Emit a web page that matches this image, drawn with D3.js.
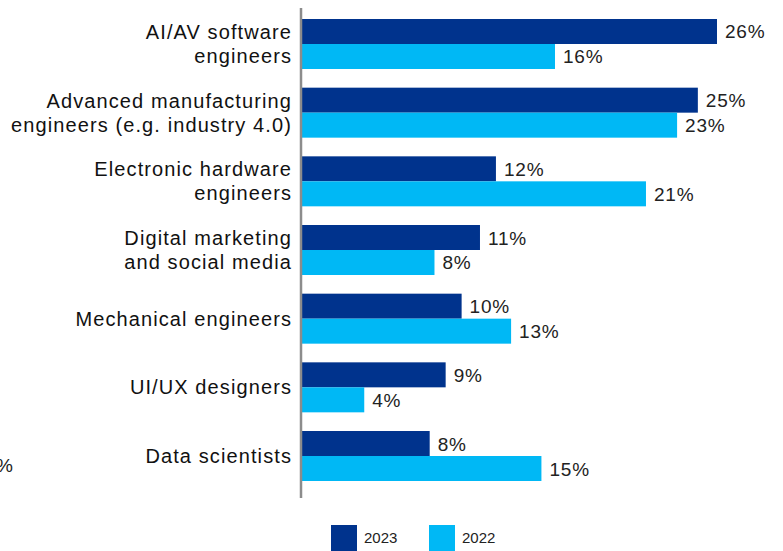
<!DOCTYPE html>
<html lang="en">
    <head>
       <script src="https://d3js.org/d3.v7.min.js"></script>
       <style>
           body { margin: 0; background: #fff; }
           text { font-family: "Liberation Sans", Arial, sans-serif; }
       </style>
    </head>
    <body>
        <script>
            var width  = 783;
            var height = 551;

            // categories, each label split into its lines
            var categories = [
                ["AI/AV software", "engineers"],
                ["Advanced manufacturing", "engineers (e.g. industry 4.0)"],
                ["Electronic hardware", "engineers"],
                ["Digital marketing", "and social media"],
                ["Mechanical engineers"],
                ["UI/UX designers"],
                ["Data scientists"]
            ];

            // series values (percent, bar lengths)
            var values2023 = [26, 24.8, 12.15, 11.15, 10, 9, 8];
            var values2022 = [15.85, 23.5, 21.55, 8.3, 13.1, 3.9, 15];

            // printed value labels
            var labels2023 = ["26%", "25%", "12%", "11%", "10%", "9%", "8%"];
            var labels2022 = ["16%", "23%", "21%", "8%", "13%", "4%", "15%"];

            var seriesNames  = ["2023", "2022"];
            var seriesColors = ["#00338d", "#00b8f5"];

            var axis_x = 301;

            var svg = d3.select("body")
                        .append("svg")
                        .attr("id", "canvas")
                        .attr("width", width)
                        .attr("height", height);

            // scales
            var x = d3.scaleLinear()
                      .domain([0, 26])
                      .range([axis_x + 1, 717]);

            var y = d3.scaleBand()
                      .domain(d3.range(categories.length))
                      .range([19, 481])
                      .paddingInner(0.272)
                      .paddingOuter(0);

            var ySub = d3.scaleBand()
                         .domain([0, 1])
                         .range([0, y.bandwidth()]);

            var series = [values2023, values2022];
            var seriesLabels = [labels2023, labels2022];

            // bars and value labels
            series.forEach(function (vals, s) {
                svg.append("g")
                   .selectAll("rect")
                   .data(vals)
                   .enter()
                   .append("rect")
                   .attr("x", x(0))
                   .attr("y", function (d, i) { return y(i) + ySub(s); })
                   .attr("width", function (d) { return x(d) - x(0); })
                   .attr("height", ySub.bandwidth())
                   .style("fill", seriesColors[s]);

                svg.append("g")
                   .selectAll("text")
                   .data(vals)
                   .enter()
                   .append("text")
                   .attr("x", function (d) { return x(d) + 8; })
                   .attr("y", function (d, i) { return y(i) + ySub(s) + ySub.bandwidth() / 2 + 7; })
                   .style("font-size", "19px")
                   .style("letter-spacing", "0.8px")
                   .style("fill", "#222")
                   .text(function (d, i) { return seriesLabels[s][i]; });
            });

            // category labels
            var labels = svg.append("g")
                            .selectAll("text")
                            .data(categories)
                            .enter()
                            .append("text")
                            .attr("text-anchor", "end")
                            .style("font-size", "20px")
                            .style("letter-spacing", "1.1px")
                            .style("fill", "#111")
                            .attr("y", function (d, i) {
                                var c = y(i) + y.bandwidth() / 2;
                                return d.length > 1 ? c - 5 : c + 7;
                            });

            labels.selectAll("tspan")
                  .data(function (d) { return d; })
                  .enter()
                  .append("tspan")
                  .attr("x", 292)
                  .attr("dy", function (d, j) { return j === 0 ? 0 : 24; })
                  .text(function (d) { return d; });

            // vertical axis line
            svg.append("line")
               .attr("x1", axis_x)
               .attr("x2", axis_x)
               .attr("y1", 8)
               .attr("y2", 498)
               .attr("stroke", "#8c8c8c")
               .attr("stroke-width", 2.5);

            // stray cut-off label at the left edge
            svg.append("text")
               .attr("x", 13)
               .attr("y", 472)
               .attr("text-anchor", "end")
               .style("font-size", "19px")
               .style("fill", "#222")
               .text("9%");

            // legend
            var legend = svg.append("g")
                            .selectAll("g")
                            .data(seriesNames)
                            .enter()
                            .append("g")
                            .attr("transform", function (d, i) { return "translate(" + (331 + i * 98) + ",525)"; });

            legend.append("rect")
                  .attr("width", 26)
                  .attr("height", 26)
                  .style("fill", function (d, i) { return seriesColors[i]; });

            legend.append("text")
                  .attr("x", 33)
                  .attr("y", 18)
                  .style("font-size", "15px")
                  .style("fill", "#222")
                  .text(function (d) { return d; });
        </script>
    </body>
</html>
